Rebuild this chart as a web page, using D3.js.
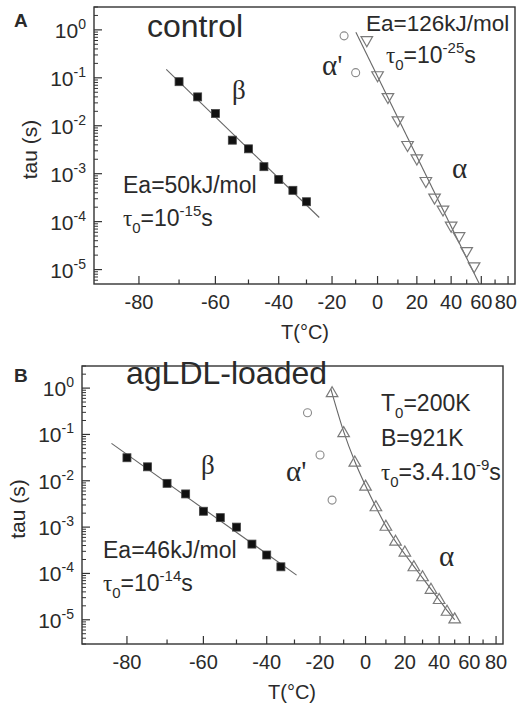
<!DOCTYPE html>
<html><head><meta charset="utf-8">
<script src="https://cdn.jsdelivr.net/npm/d3@7"></script>
<style>
html,body{margin:0;padding:0;background:#fff;}
svg{display:block;}
text{font-family:"Liberation Sans",Arial,sans-serif;fill:#2a2a2a;}
.serif{font-family:"Liberation Serif","Times New Roman",serif;}
</style></head>
<body>
<script>
// ---------- tick labels ----------
const tempMajorTicks = [-80, -60, -40, -20, 0, 20, 40, 60, 80];
const tempMinorTicks = [-70, -50, -30, -10, 10, 30, 50, 70];
const tauDecades = [1, 1e-1, 1e-2, 1e-3, 1e-4, 1e-5];
const tauExponents = ["0", "-1", "-2", "-3", "-4", "-5"];

// ---------- Panel A (control) ----------
const A_betaT = [-70, -65, -60, -55, -50, -45, -40, -35, -30];
const A_betaTau = [0.083, 0.040, 0.018, 0.0050, 0.0033, 0.0014, 7.6e-4, 4.5e-4, 2.6e-4];
const A_alphaT = [-5, 0, 5, 10, 15, 20, 25, 30, 35, 40, 45, 50, 55];
const A_alphaTau = [0.615, 0.114, 0.040, 0.0131, 0.0040, 0.0021, 7.1e-4, 3.2e-4, 1.8e-4, 8.3e-5, 5.0e-5, 2.45e-5, 1.18e-5];
const A_alphaPrimeT = [-15, -10];
const A_alphaPrimeTau = [0.75, 0.128];
const A_betaFitT = [-73.3, -25.1];
const A_betaFitTau = [0.150, 1.22e-4];
const A_alphaFitT = [-9.9, 58.5];
const A_alphaFitTau = [0.89, 5.1e-6];

// ---------- Panel B (agLDL-loaded) ----------
const B_betaT = [-80, -75, -70, -65, -60, -55, -50, -45, -40, -35];
const B_betaTau = [0.0314, 0.020, 0.0088, 0.0052, 0.0022, 0.0016, 0.0010, 4.3e-4, 2.5e-4, 1.39e-4];
const B_alphaT = [-15, -10, -5, 0, 5, 10, 15, 20, 25, 30, 35, 40, 45, 50];
const B_alphaTau = [0.77, 0.106, 0.0245, 0.0074, 0.00266, 0.00101, 4.8e-4, 2.8e-4, 1.35e-4, 8.2e-5, 4.4e-5, 2.65e-5, 1.48e-5, 1.01e-5];
const B_alphaPrimeT = [-25, -20, -15];
const B_alphaPrimeTau = [0.294, 0.0359, 0.00383];
const B_betaFitT = [-83.6, -29.2];
const B_betaFitTau = [0.0643, 9.2e-5];
const B_alphaFitT = [-15.5, -10, -5, 0, 5, 10, 15, 20, 25, 30, 35, 40, 45, 50];
const B_alphaFitTau = [0.95, 0.115, 0.026, 0.0078, 0.0027, 0.00105, 4.9e-4, 2.6e-4, 1.42e-4, 8.0e-5, 4.6e-5, 2.7e-5, 1.6e-5, 1.0e-5];

const zip = (a, b) => a.map((v, i) => [v, b[i]]);
const invT = t => 1000 / (t + 273.15);

const W = 518, H = 711;
const svg = d3.select("body").append("svg").attr("width", W).attr("height", H);

function panel(cfg) {
  const g = svg.append("g");
  const xs = d3.scaleLinear().domain([5.463, 2.7875]).range([cfg.left, cfg.right]);
  const fx = t => xs(invT(t));
  const ys = d3.scaleLog().domain(cfg.yDomain).range([cfg.bottom, cfg.top]);
  const clipId = "clip" + cfg.id;
  g.append("clipPath").attr("id", clipId).append("rect")
    .attr("x", cfg.left).attr("y", cfg.top)
    .attr("width", cfg.right - cfg.left).attr("height", cfg.bottom - cfg.top);

  // x ticks (inside, pointing up)
  g.append("g").selectAll("line").data(tempMajorTicks).join("line")
    .attr("x1", d => fx(d)).attr("x2", d => fx(d))
    .attr("y1", cfg.bottom).attr("y2", cfg.bottom - 8)
    .attr("stroke", "#333").attr("stroke-width", 1.2);
  g.append("g").selectAll("line").data(tempMinorTicks).join("line")
    .attr("x1", d => fx(d)).attr("x2", d => fx(d))
    .attr("y1", cfg.bottom).attr("y2", cfg.bottom - 4.5)
    .attr("stroke", "#333").attr("stroke-width", 1.2);
  g.append("g").selectAll("text").data(tempMajorTicks).join("text")
    .attr("x", d => fx(d)).attr("y", cfg.bottom + 25)
    .attr("text-anchor", "middle").attr("font-size", 20)
    .text(d => d)
    .each(function () {
      // keep the last label inside the picture
      const w = this.getComputedTextLength();
      const x = +this.getAttribute("x");
      if (x + w / 2 > W - 1) this.setAttribute("x", W - 1 - w / 2);
    });

  // y ticks: major + log minor (inside, pointing right)
  const minorVals = [];
  const lo = Math.floor(Math.log10(cfg.yDomain[0])), hi = Math.ceil(Math.log10(cfg.yDomain[1]));
  for (let e = lo; e <= hi; e++) for (let m = 2; m <= 9; m++) {
    const v = m * Math.pow(10, e);
    if (v >= cfg.yDomain[0] && v <= cfg.yDomain[1]) minorVals.push(v);
  }
  g.append("g").selectAll("line").data(minorVals).join("line")
    .attr("x1", cfg.left).attr("x2", cfg.left + 4)
    .attr("y1", d => ys(d)).attr("y2", d => ys(d))
    .attr("stroke", "#333").attr("stroke-width", 1);
  g.append("g").selectAll("line").data(tauDecades).join("line")
    .attr("x1", cfg.left).attr("x2", cfg.left + 8)
    .attr("y1", d => ys(d)).attr("y2", d => ys(d))
    .attr("stroke", "#333").attr("stroke-width", 1.2);
  const yl = g.append("g").selectAll("text").data(tauDecades).join("text")
    .attr("x", cfg.left - 8).attr("y", d => ys(d) + 8)
    .attr("text-anchor", "end").attr("font-size", 21);
  yl.append("tspan").text("10");
  yl.append("tspan").attr("dy", -9).attr("font-size", 14).text((d, i) => tauExponents[i]);

  // frame
  g.append("rect").attr("x", cfg.left).attr("y", cfg.top)
    .attr("width", cfg.right - cfg.left).attr("height", cfg.bottom - cfg.top)
    .attr("fill", "none").attr("stroke", "#333").attr("stroke-width", 1.4);

  const plot = g.append("g").attr("clip-path", `url(#${clipId})`);
  const line = d3.line().x(d => fx(d[0])).y(d => ys(d[1]));
  plot.append("path").datum(zip(cfg.betaFitT, cfg.betaFitTau))
    .attr("d", line).attr("fill", "none").attr("stroke", "#666").attr("stroke-width", 1.1);
  plot.append("path").datum(zip(cfg.alphaFitT, cfg.alphaFitTau))
    .attr("d", line.curve(d3.curveMonotoneX)).attr("fill", "none").attr("stroke", "#666").attr("stroke-width", 1.1);

  // beta squares
  const s = 8;
  plot.append("g").selectAll("rect").data(zip(cfg.betaT, cfg.betaTau)).join("rect")
    .attr("x", d => fx(d[0]) - s / 2).attr("y", d => ys(d[1]) - s / 2)
    .attr("width", s).attr("height", s).attr("fill", "#111").attr("stroke", "#444").attr("stroke-width", 0.8);
  // alpha triangles
  const tri = d3.symbol().type(d3.symbolTriangle).size(58)();
  plot.append("g").selectAll("path").data(zip(cfg.alphaT, cfg.alphaTau)).join("path")
    .attr("d", tri)
    .attr("transform", d => `translate(${fx(d[0])},${ys(d[1])})` + (cfg.triUp ? "" : " rotate(180)"))
    .attr("fill", "none").attr("stroke", "#7a7a7a").attr("stroke-width", 1.2);
  // alpha' circles
  plot.append("g").selectAll("circle").data(zip(cfg.apT, cfg.apTau)).join("circle")
    .attr("cx", d => fx(d[0])).attr("cy", d => ys(d[1])).attr("r", 4)
    .attr("fill", "none").attr("stroke", "#8a8a8a").attr("stroke-width", 1.1);

  // axis labels
  g.append("text").attr("transform", `translate(${cfg.yLabelX},${(cfg.top + cfg.bottom) / 2 + 4}) rotate(-90)`)
    .attr("text-anchor", "middle").attr("font-size", 21).text("tau (s)");
  g.append("text").attr("x", cfg.xLabelX).attr("y", cfg.bottom + 55)
    .attr("text-anchor", "middle").attr("font-size", 20).text("T(°C)");
  return g;
}

function tauText(g, x, y, sub, sup, pre) {
  const t = g.append("text").attr("x", x).attr("y", y).attr("font-size", 23);
  t.append("tspan").attr("class", "serif").text("τ");
  t.append("tspan").attr("dy", 7).attr("font-size", 15).text("0");
  t.append("tspan").attr("dy", -7).text(pre);
  t.append("tspan").attr("dy", -10).attr("font-size", 15).text(sup);
  t.append("tspan").attr("dy", 10).text("s");
}

// Panel A
const gA = panel({
  id: "A", left: 94, right: 515, top: 7, bottom: 284, yDomain: [5e-6, 3],
  betaT: A_betaT, betaTau: A_betaTau, alphaT: A_alphaT, alphaTau: A_alphaTau,
  apT: A_alphaPrimeT, apTau: A_alphaPrimeTau,
  betaFitT: A_betaFitT, betaFitTau: A_betaFitTau, alphaFitT: A_alphaFitT, alphaFitTau: A_alphaFitTau,
  triUp: false, yLabelX: 37, xLabelX: 305
});
gA.append("text").attr("x", 14).attr("y", 27).attr("font-size", 19).attr("font-weight", "bold").text("A");
gA.append("text").attr("x", 147).attr("y", 37).attr("font-size", 32).text("control");
gA.append("text").attr("class", "serif").attr("x", 232).attr("y", 99).attr("font-size", 27).text("β");
gA.append("text").attr("x", 123).attr("y", 193).attr("font-size", 23).text("Ea=50kJ/mol");
tauText(gA, 123, 226, "0", "-15", "=10");
gA.append("text").attr("x", 366).attr("y", 31).attr("font-size", 22.5).text("Ea=126kJ/mol");
tauText(gA, 386, 63, "0", "-25", "=10");
gA.append("text").attr("class", "serif").attr("x", 322).attr("y", 75).attr("font-size", 29).text("α'");
gA.append("text").attr("class", "serif").attr("x", 452).attr("y", 178).attr("font-size", 29).text("α");

// Panel B
const gB = panel({
  id: "B", left: 82, right: 503, top: 366, bottom: 644, yDomain: [3e-6, 3],
  betaT: B_betaT, betaTau: B_betaTau, alphaT: B_alphaT, alphaTau: B_alphaTau,
  apT: B_alphaPrimeT, apTau: B_alphaPrimeTau,
  betaFitT: B_betaFitT, betaFitTau: B_betaFitTau, alphaFitT: B_alphaFitT, alphaFitTau: B_alphaFitTau,
  triUp: true, yLabelX: 25, xLabelX: 292
});
gB.append("text").attr("x", 14).attr("y", 382).attr("font-size", 19).attr("font-weight", "bold").text("B");
gB.append("text").attr("x", 126).attr("y", 384).attr("font-size", 32).text("agLDL-loaded");
gB.append("text").attr("class", "serif").attr("x", 201).attr("y", 474).attr("font-size", 27).text("β");
gB.append("text").attr("x", 103).attr("y", 558).attr("font-size", 23).text("Ea=46kJ/mol");
tauText(gB, 103, 591, "0", "-14", "=10");
const t0 = gB.append("text").attr("x", 381).attr("y", 411).attr("font-size", 23);
t0.append("tspan").text("T");
t0.append("tspan").attr("dy", 7).attr("font-size", 15).text("0");
t0.append("tspan").attr("dy", -7).text("=200K");
gB.append("text").attr("x", 381).attr("y", 446).attr("font-size", 23).text("B=921K");
tauText(gB, 381, 480, "0", "-9", "=3.4.10");
gB.append("text").attr("class", "serif").attr("x", 286).attr("y", 481).attr("font-size", 29).text("α'");
gB.append("text").attr("class", "serif").attr("x", 439).attr("y", 566).attr("font-size", 29).text("α");
</script>
</body></html>
